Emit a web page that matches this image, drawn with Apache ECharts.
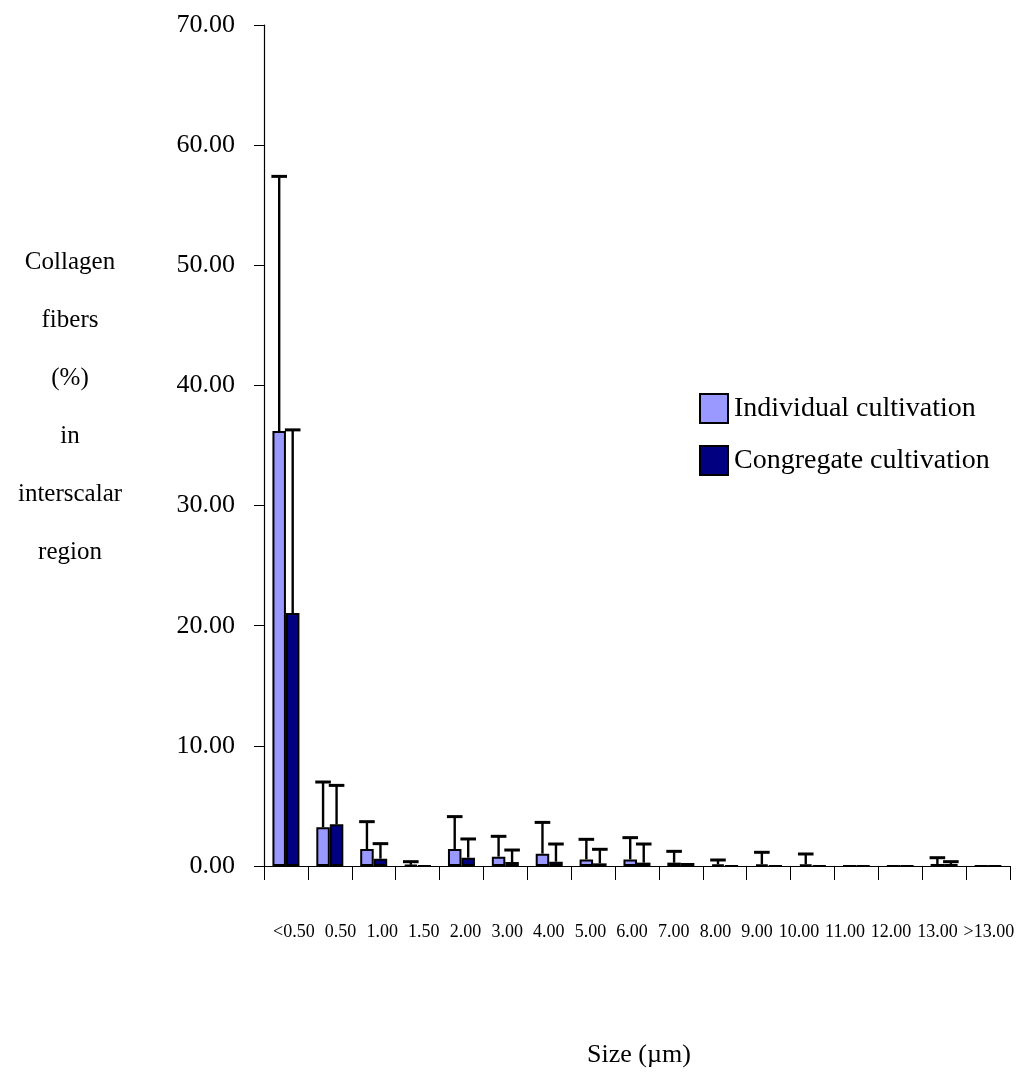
<!DOCTYPE html>
<html>
<head>
<meta charset="utf-8">
<script src="https://cdn.jsdelivr.net/npm/echarts@6/dist/echarts.min.js"></script>
<style>
  html, body { margin: 0; padding: 0; background: #fff; }
  #chart { width: 1017px; height: 1072px; }
</style>
</head>
<body>
<div id="chart"></div>
<script>
// Fiber size classes (µm)
const categories = ['<0.50', '0.50', '1.00', '1.50', '2.00', '3.00', '4.00', '5.00',
  '6.00', '7.00', '8.00', '9.00', '10.00', '11.00', '12.00', '13.00', '>13.00'];

// Mean percentage of collagen fibers per size class
const individualMean = [36.2, 3.22, 1.41, 0.10, 1.41, 0.78, 1.03, 0.55, 0.55, 0.28, 0.14, 0.14, 0.14, 0.02, 0.02, 0.17, 0.02];
const congregateMean = [21.06, 3.47, 0.61, 0.02, 0.69, 0.33, 0.36, 0.22, 0.28, 0.25, 0.02, 0.02, 0.02, 0.02, 0.02, 0.17, 0.02];

// Standard deviations (upper error bars)
const individualSd = [21.2, 3.77, 2.28, 0.26, 2.70, 1.69, 2.60, 1.67, 1.81, 0.94, 0.36, 1.00, 0.86, 0, 0, 0.52, 0];
const congregateSd = [15.24, 3.24, 1.25, 0, 1.56, 1.00, 1.47, 1.17, 1.55, 0, 0, 0, 0, 0, 0, 0.19, 0];

const yTicks = [0, 10, 20, 30, 40, 50, 60, 70];
const yTitleLines = ['Collagen', 'fibers', '(%)', 'in', 'interscalar', 'region'];
const xTitle = 'Size (\u00b5m)';

const SERIF = '"Liberation Serif", "Times New Roman", serif';
const BAR_W = 13.5;
const X_LABEL_SIZE = 18;

const chart = echarts.init(document.getElementById('chart'), null, { renderer: 'canvas' });

// Upper-only error bar drawn over the matching bar
function errorRenderer(means, sds, side) {
  return function (params, api) {
    const i = api.value(0);
    const sd = sds[i];
    if (!sd) return null;
    const base = api.coord([i, means[i]]);
    const top = api.coord([i, means[i] + sd]);
    const x = base[0] + side * BAR_W / 2;
    return {
      type: 'group',
      children: [
        { type: 'line', shape: { x1: x, y1: base[1], x2: x, y2: top[1] },
          style: { stroke: '#000', lineWidth: 2.4 } },
        { type: 'line', shape: { x1: x - 7.8, y1: top[1], x2: x + 7.8, y2: top[1] },
          style: { stroke: '#000', lineWidth: 3 } }
      ]
    };
  };
}

const graphics = yTitleLines.map((t, k) => ({
  type: 'text',
  style: { text: t, x: 70, y: 262 + k * 58, font: '25px ' + SERIF, fill: '#000',
    textAlign: 'center', textVerticalAlign: 'middle' }
}));
graphics.push({
  type: 'text',
  style: { text: xTitle, x: 639, y: 1055, font: '26px ' + SERIF, fill: '#000',
    textAlign: 'center', textVerticalAlign: 'middle' }
});

chart.setOption({
  animation: false,
  backgroundColor: '#fff',
  grid: { left: 264, right: 1, top: 25, bottom: 206, containLabel: false },
  legend: {
    orient: 'vertical',
    left: 694, top: 388,
    itemWidth: 28, itemHeight: 29, itemGap: 21,
    icon: 'rect',
    textStyle: { fontFamily: SERIF, fontSize: 28, color: '#000', padding: [0, 0, 0, 1] },
    data: ['Individual cultivation', 'Congregate cultivation']
  },
  xAxis: {
    type: 'category',
    data: categories,
    axisLine: { lineStyle: { color: '#000', width: 1.2 } },
    axisTick: { show: true, length: 14, lineStyle: { color: '#000' } },
    axisLabel: { fontFamily: SERIF, fontSize: X_LABEL_SIZE, color: '#000', margin: 57, interval: 0 }
  },
  yAxis: {
    type: 'value',
    min: yTicks[0], max: yTicks[yTicks.length - 1], interval: 10,
    splitLine: { show: false },
    axisLine: { show: true, lineStyle: { color: '#000', width: 1.2 } },
    axisTick: { show: true, length: 10, lineStyle: { color: '#000' } },
    axisLabel: { fontFamily: SERIF, fontSize: 26, color: '#000', margin: 29,
      formatter: v => v.toFixed(2) }
  },
  graphic: graphics,
  series: [
    {
      name: 'Individual cultivation', type: 'bar', data: individualMean,
      barWidth: BAR_W, barGap: '0%',
      itemStyle: { color: '#9999FF', borderColor: '#000', borderWidth: 2 }
    },
    {
      name: 'Congregate cultivation', type: 'bar', data: congregateMean,
      barWidth: BAR_W, barGap: '0%',
      itemStyle: { color: '#000080', borderColor: '#000', borderWidth: 2 }
    },
    {
      type: 'custom', z: 5, silent: true,
      data: categories.map((c, i) => [i]),
      renderItem: errorRenderer(individualMean, individualSd, -1)
    },
    {
      type: 'custom', z: 5, silent: true,
      data: categories.map((c, i) => [i]),
      renderItem: errorRenderer(congregateMean, congregateSd, 1)
    }
  ]
});

// The size labels run as one text row under the axis: they start at the
// left bar edge, keep a fixed gap, and the wider labels at the end are
// packed so the row finishes at the right edge of the plot.
(function layoutSizeLabels() {
  const ctx = document.createElement('canvas').getContext('2d');
  ctx.font = X_LABEL_SIZE + 'px ' + SERIF;
  const widths = categories.map(c => ctx.measureText(c).width);
  const rowLeft = 273, rowRight = 1015, gap = 10.2, packedFrom = 12;
  const centers = [];
  let x = rowLeft;
  for (let i = 0; i < packedFrom; i++) {
    centers.push(x + widths[i] / 2);
    x += widths[i] + gap;
  }
  const rest = widths.slice(packedFrom);
  const restW = rest.reduce((a, b) => a + b, 0);
  const tailGap = (rowRight - (x - gap) - restW) / rest.length;
  x = x - gap + tailGap;
  for (let i = packedFrom; i < categories.length; i++) {
    centers.push(x + widths[i] / 2);
    x += widths[i] + tailGap;
  }
  const rich = {};
  categories.forEach((c, i) => {
    const slot = chart.convertToPixel({ xAxisIndex: 0 }, i);
    const d = centers[i] - slot;
    rich['l' + i] = {
      fontFamily: SERIF, fontSize: X_LABEL_SIZE, color: '#000',
      padding: [0, Math.max(0, -2 * d), 0, Math.max(0, 2 * d)]
    };
  });
  chart.setOption({
    xAxis: { axisLabel: { rich: rich, formatter: (v, i) => '{l' + i + '|' + v + '}' } }
  });
})();
</script>
</body>
</html>
